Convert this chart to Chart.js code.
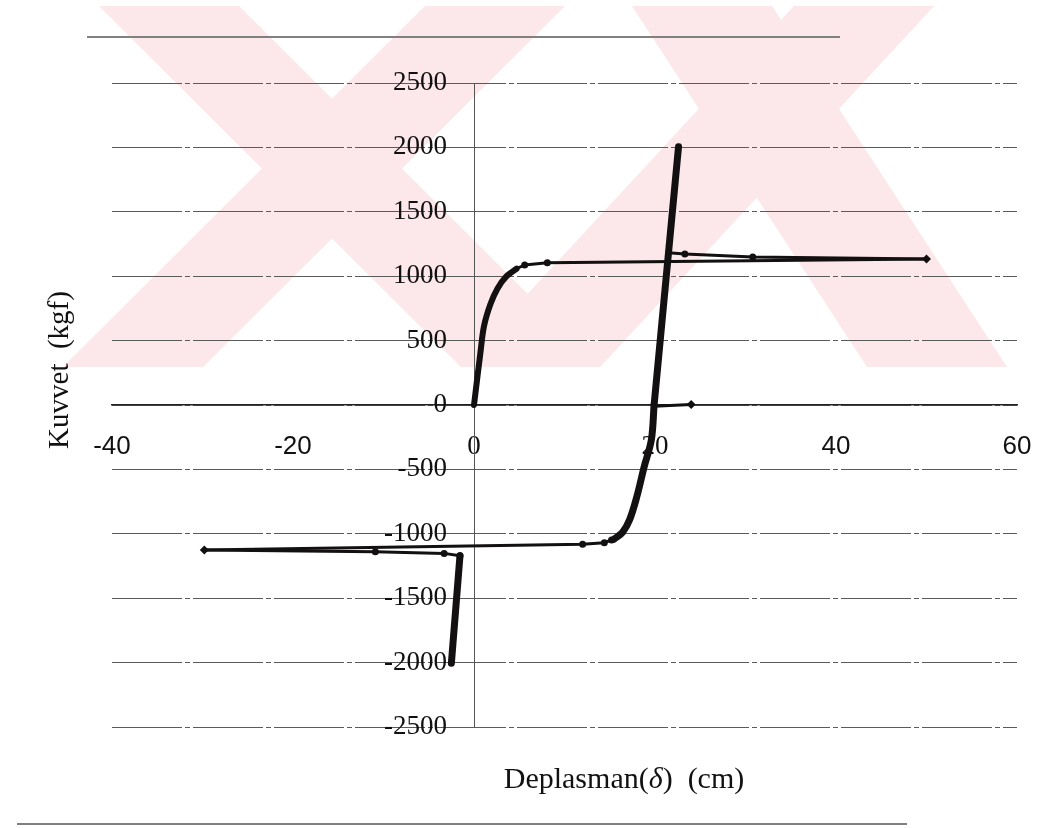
<!DOCTYPE html>
<html>
<head>
<meta charset="utf-8">
<script src="https://cdn.jsdelivr.net/npm/chart.js@4.4.1/dist/chart.umd.min.js"></script>
<style>
  html, body { margin: 0; padding: 0; background: #fff; }
  canvas { display: block; }
</style>
</head>
<body>
<canvas id="chart" width="1039" height="828"></canvas>
<script>
// tick labels
const xTicks = [-40, -20, 0, 20, 40, 60];
const yTicks = [-2500, -2000, -1500, -1000, -500, 0, 500, 1000, 1500, 2000, 2500];

// loading branch (thick)
const loadX = [0, 0.7, 1.1, 1.8, 2.6, 3.6, 4.7];
const loadY = [0, 400, 610, 780, 905, 1000, 1058];
// plateau out to max displacement
const plateauX = [4.7, 5.6, 8.1, 50];
const plateauY = [1058, 1087, 1105, 1133];
// return along the top
const backTopX = [50, 30.8, 23.3, 21.5];
const backTopY = [1133, 1149, 1172, 1182];
// unloading, straight part (thick)
const unloadX = [22.6, 19.9];
const unloadY = [2005, 0];
// unloading, curved part (thick)
const bendX = [19.9, 19.6, 18.8, 18.0, 17.2, 16.4, 15.5];
const bendY = [0, -270, -480, -710, -890, -990, -1040];
// negative plateau
const negX = [15.5, 15.2, 14.4, 12.0, -29.8];
const negY = [-1040, -1048, -1069, -1082, -1126];
// return along the bottom
const backBotX = [-29.8, -10.9, -3.3, -1.55];
const backBotY = [-1126, -1139, -1152, -1170];
// final drop (thick)
const dropX = [-1.55, -2.5];
const dropY = [-1170, -2005];
// small branch at zero
const branchX = [19.9, 24.0];
const branchY = [-10, 3];

const pts = (xs, ys) => xs.map((x, i) => ({ x: x, y: ys[i] }));
const ink = '#121010';

function series(xs, ys, width, radius, style, tension) {
  return {
    data: pts(xs, ys),
    borderColor: ink,
    backgroundColor: ink,
    borderWidth: width,
    pointRadius: radius,
    pointStyle: style || 'circle',
    pointBorderWidth: 0,
    pointHoverRadius: 0,
    showLine: true,
    tension: tension || 0,
    borderCapStyle: 'round',
    borderJoinStyle: 'round'
  };
}

const serif = '"Liberation Serif", "Times New Roman", serif';
const sans = '"Liberation Sans", Arial, sans-serif';

// pale pink watermark behind everything, plus the scanned frame lines
const backdrop = {
  id: 'backdrop',
  beforeDraw(chart) {
    const ctx = chart.ctx;
    ctx.save();
    ctx.fillStyle = '#fff';
    ctx.fillRect(0, 0, chart.width, chart.height);
    ctx.fillStyle = '#fce7eb';
    const top = 6, bot = 367;
    // [top left, top right, bottom left, bottom right]
    const bands = [
      [99, 239, 461, 601],
      [425, 565, 63, 203],
      [632, 772, 867, 1007],
      [794, 934, 460, 600]
    ];
    bands.forEach(b => {
      ctx.beginPath();
      ctx.moveTo(b[0], top);
      ctx.lineTo(b[1], top);
      ctx.lineTo(b[3], bot);
      ctx.lineTo(b[2], bot);
      ctx.closePath();
      ctx.fill();
    });
    ctx.strokeStyle = '#808080';
    ctx.lineWidth = 2;
    ctx.beginPath();
    ctx.moveTo(87, 37); ctx.lineTo(840, 37);
    ctx.moveTo(17, 824); ctx.lineTo(907, 824);
    ctx.stroke();
    ctx.restore();
  }
};

// axis titles drawn at the page edges like the original
const titles = {
  id: 'titles',
  afterDraw(chart) {
    const ctx = chart.ctx;
    ctx.save();
    ctx.fillStyle = '#111';
    ctx.textBaseline = 'alphabetic';
    const parts = [
      ['Deplasman(', '30px ' + serif],
      ['\u03B4', 'italic 30px ' + serif],
      [')  (cm)', '30px ' + serif]
    ];
    let total = 0;
    parts.forEach(p => { ctx.font = p[1]; total += ctx.measureText(p[0]).width; });
    let x = 624 - total / 2;
    parts.forEach(p => {
      ctx.font = p[1];
      ctx.textAlign = 'left';
      ctx.fillText(p[0], x, 788);
      x += ctx.measureText(p[0]).width;
    });
    ctx.translate(60, 370);
    ctx.rotate(-Math.PI / 2);
    ctx.font = '29px ' + serif;
    ctx.textAlign = 'center';
    ctx.textBaseline = 'middle';
    ctx.fillText('Kuvvet  (kgf)', 0, 0);
    ctx.restore();
  }
};

new Chart(document.getElementById('chart'), {
  type: 'scatter',
  data: {
    datasets: [
      series(loadX, loadY, 6, 0, null, 0.35),
      series(plateauX, plateauY, 3, [0, 3.5, 3.5, 4.5], ['circle', 'circle', 'circle', 'rectRot']),
      series(backTopX, backTopY, 3, [0, 3.5, 3.5, 3]),
      series(unloadX, unloadY, 7, 0),
      series(bendX, bendY, 7, 0, null, 0.35),
      series(negX, negY, 3, [0, 3.5, 3.5, 3.5, 4.5], ['circle', 'circle', 'circle', 'circle', 'rectRot']),
      series(backBotX, backBotY, 3, [0, 3.5, 3.5, 3.5]),
      series(dropX, dropY, 7, 0),
      series(branchX, branchY, 3, [0, 4.5], ['circle', 'rectRot'])
    ]
  },
  options: {
    responsive: false,
    animation: false,
    events: [],
    layout: { padding: { left: 112, right: 22, top: 83, bottom: 101 } },
    plugins: {
      legend: { display: false },
      tooltip: { enabled: false }
    },
    scales: {
      x: {
        type: 'linear',
        min: -40,
        max: 60,
        position: { y: 0 },
        afterBuildTicks: s => { s.ticks = xTicks.map(v => ({ value: v })); },
        // labels sit well below the axis; don't let that widen the side padding
        afterFit: s => { s.paddingLeft = 0; s.paddingRight = 0; },
        grid: { display: false },
        border: { display: true, color: '#222', width: 1.5 },
        ticks: {
          color: '#111',
          padding: 18,
          maxRotation: 0,
          autoSkip: false,
          callback: v => String(v),
          font: ctx => (ctx.tick && (ctx.tick.value === 0 || ctx.tick.value === 20))
            ? { family: serif, size: 27 }
            : { family: sans, size: 26 }
        }
      },
      y: {
        type: 'linear',
        min: -2500,
        max: 2500,
        position: { x: 0 },
        afterBuildTicks: s => { s.ticks = yTicks.map(v => ({ value: v })); },
        grid: { color: '#5a5a5a', lineWidth: 1, drawTicks: false },
        border: { display: true, color: '#555', width: 1, dash: [70, 3, 5, 3] },
        ticks: {
          color: '#111',
          // figure spaces keep the labels clear of the centred axis line
          callback: v => String(v) + '\u2007\u2007',
          font: { family: serif, size: 27 }
        }
      }
    }
  },
  plugins: [backdrop, titles]
});
</script>
</body>
</html>
